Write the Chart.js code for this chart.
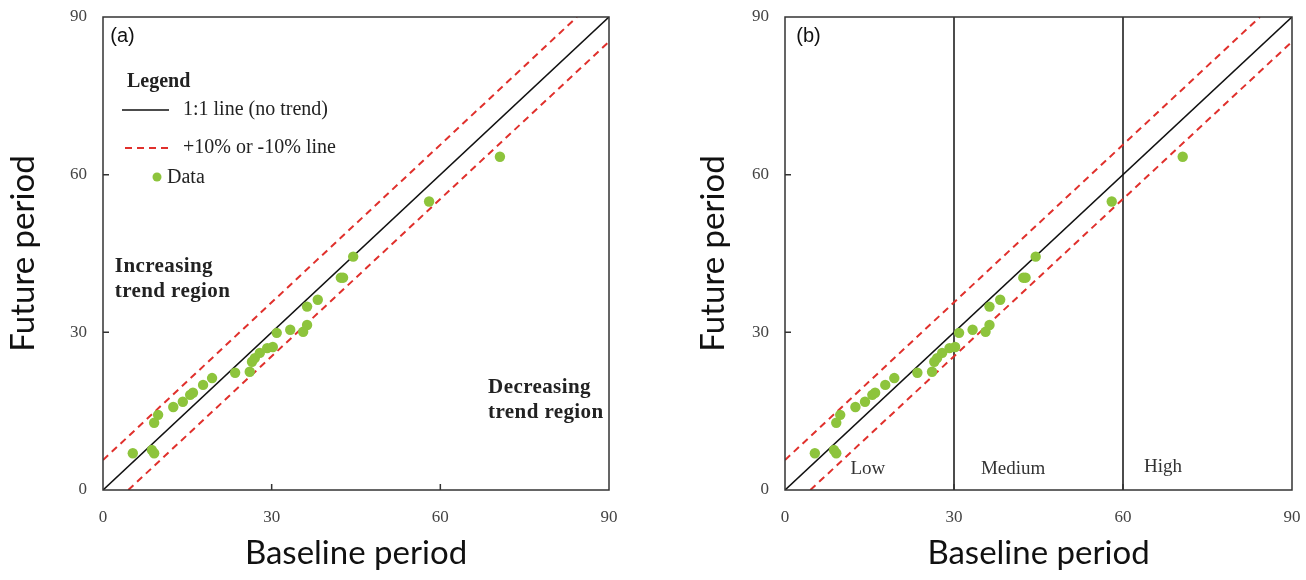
<!DOCTYPE html>
<html>
<head>
<meta charset="utf-8">
<script src="https://cdn.jsdelivr.net/npm/chart.js@4/dist/chart.umd.min.js"></script>
<style>
  html, body { margin: 0; padding: 0; background: #fff; }
  #wrap { position: relative; width: 1306px; height: 580px; }
  #boxA { position: absolute; left: 0; top: 0; width: 650px; height: 580px; }
  #boxB { position: absolute; left: 650px; top: 0; width: 656px; height: 580px; }
</style>
</head>
<body>
<div id="wrap">
  <div id="boxA"><canvas id="chartA"></canvas></div>
  <div id="boxB"><canvas id="chartB"></canvas></div>
</div>
<script>
// data
const baseline = [5.3, 8.7, 9.1, 9.1, 9.8, 12.5, 14.2, 15.5, 16.0, 17.8, 19.4, 23.5, 26.1, 26.5, 27.0,
  27.9, 29.2, 30.2, 30.9, 33.3, 35.6, 36.3, 36.3, 38.2, 42.3, 42.7, 44.5, 58.0, 70.6];
const future = [7.0, 7.6, 7.0, 12.8, 14.3, 15.8, 16.8, 18.1, 18.5, 20.0, 21.3, 22.3, 22.5, 24.4, 25.1,
  26.1, 27.0, 27.2, 29.9, 30.5, 30.1, 31.4, 34.9, 36.2, 40.4, 40.4, 44.4, 54.9, 63.4];
const tickValues = [0, 30, 60, 90];
const oneToOneX = [0, 90], oneToOneY = [0, 90];
const upperX = [0, 84.3], upperY = [5.7, 90];
const lowerX = [4.5, 90], lowerY = [0, 85.3];
const classBounds = [30, 60];
const classNames = ['Low', 'Medium', 'High'];

const SERIF = "'Liberation Serif', 'Times New Roman', serif";
const GREEN = '#8dc43c';
const RED = '#e0302c';

const pts = (xs, ys) => xs.map((v, i) => ({ x: v, y: ys[i] }));

function makeDatasets(withBounds) {
  const ds = [
    { label: 'Data', data: pts(baseline, future), showLine: false, pointRadius: 5.2,
      backgroundColor: GREEN, borderColor: GREEN, borderWidth: 0, order: 0, inLegend: 3 },
    { label: '1:1 line (no trend)', data: pts(oneToOneX, oneToOneY), showLine: true, pointRadius: 0,
      borderColor: '#111', borderWidth: 1.6, order: 1, inLegend: 1 },
    { label: '+10% or -10% line', data: pts(upperX, upperY), showLine: true, pointRadius: 0,
      borderColor: RED, borderWidth: 2, borderDash: [7, 5], order: 1, inLegend: 2 },
    { label: '-10% line', data: pts(lowerX, lowerY), showLine: true, pointRadius: 0,
      borderColor: RED, borderWidth: 2, borderDash: [7, 5], order: 1 }
  ];
  if (withBounds) {
    classBounds.forEach(b => ds.push({ label: 'bound ' + b, data: pts([b, b], [0, 90]), showLine: true,
      pointRadius: 0, borderColor: '#111', borderWidth: 1.5, order: 2 }));
  }
  return ds;
}

function makeScales(yWidth) {
  const tickFont = { family: SERIF, size: 17 };
  const titleFont = { family: "Lato, 'Open Sans', sans-serif", size: 33 };
  return {
    x: {
      type: 'linear', min: 0, max: 90,
      afterBuildTicks: s => { s.ticks = tickValues.map(v => ({ value: v })); },
      grid: { display: false, drawTicks: false }, border: { display: false },
      ticks: { font: tickFont, color: '#444', padding: 17, maxRotation: 0 },
      title: { display: true, text: 'Baseline period', font: titleFont, color: '#111', padding: { top: 2, bottom: 7 } },
      afterFit: s => { s.height = 90; s.paddingLeft = 0; s.paddingRight = 0; }
    },
    y: {
      type: 'linear', min: 0, max: 90,
      afterBuildTicks: s => { s.ticks = tickValues.map(v => ({ value: v })); },
      grid: { display: false, drawTicks: false }, border: { display: false },
      ticks: { font: tickFont, color: '#444', padding: 16 },
      title: { display: true, text: 'Future period', font: titleFont, color: '#111', padding: { top: 4, bottom: 0 } },
      afterFit: s => { s.width = yWidth; s.paddingTop = 0; s.paddingBottom = 0; }
    }
  };
}

// frame box + small inward tick marks
const frameTicks = {
  id: 'frameTicks',
  afterDraw(chart) {
    const { ctx, chartArea: a, scales: { x, y } } = chart;
    ctx.save();
    ctx.strokeStyle = '#333';
    ctx.lineWidth = 1.5;
    ctx.strokeRect(a.left, a.top, a.right - a.left, a.bottom - a.top);
    ctx.beginPath();
    tickValues.slice(1, -1).forEach(v => {
      const px = x.getPixelForValue(v), py = y.getPixelForValue(v);
      ctx.moveTo(px, a.bottom); ctx.lineTo(px, a.bottom - 6);
      ctx.moveTo(a.left, py); ctx.lineTo(a.left + 6, py);
    });
    ctx.stroke();
    ctx.restore();
  }
};

// text notes placed in data units
const notes = {
  id: 'notes',
  afterDraw(chart, args, opts) {
    const { ctx, scales: { x, y } } = chart;
    ctx.save();
    ctx.textBaseline = 'middle';
    (opts.items || []).forEach(n => {
      ctx.font = n.font;
      ctx.fillStyle = n.color || '#222';
      ctx.textAlign = n.align || 'left';
      ctx.letterSpacing = n.spacing || '0px';
      ctx.fillText(n.text, x.getPixelForValue(n.x), y.getPixelForValue(n.y));
    });
    ctx.restore();
  }
};

// legend drawn like the original (no frame)
const boxLegend = {
  id: 'boxLegend',
  afterDraw(chart, args, opts) {
    if (!opts.show) return;
    const { ctx, chartArea: a } = chart;
    const x0 = a.left + 19, y0 = a.top;
    ctx.save();
    ctx.textBaseline = 'middle';
    ctx.fillStyle = '#222';
    ctx.font = 'bold 20px ' + SERIF;
    ctx.fillText('Legend', x0 + 5, y0 + 65);
    const items = chart.data.datasets.filter(d => d.inLegend).sort((p, q) => p.inLegend - q.inLegend);
    items.forEach((d, i) => {
      const yy = y0 + opts.rows[i];
      ctx.font = '20px ' + SERIF;
      ctx.fillStyle = '#222';
      if (d.showLine) {
        ctx.strokeStyle = d.borderColor;
        ctx.lineWidth = d.borderWidth;
        ctx.setLineDash(d.borderDash || []);
        ctx.beginPath();
        ctx.moveTo(x0 + (d.borderDash ? 3 : 0), yy);
        ctx.lineTo(x0 + 47, yy);
        ctx.stroke();
        ctx.setLineDash([]);
        ctx.fillText(d.label, x0 + 61, yy);
      } else {
        ctx.fillStyle = d.backgroundColor;
        ctx.beginPath();
        ctx.arc(x0 + 35, yy, 4.5, 0, Math.PI * 2);
        ctx.fill();
        ctx.fillStyle = '#222';
        ctx.fillText(d.label, x0 + 45, yy + 1);
      }
    });
    ctx.restore();
  }
};

function makeChart(id, opt) {
  return new Chart(document.getElementById(id), {
    type: 'scatter',
    data: { datasets: makeDatasets(opt.bounds) },
    options: {
      responsive: true,
      maintainAspectRatio: false,
      animation: false,
      layout: { padding: opt.padding, autoPadding: false },
      scales: makeScales(opt.yWidth),
      plugins: {
        legend: { display: false },
        tooltip: { enabled: false },
        notes: { items: opt.notes },
        boxLegend: { show: opt.legend, rows: [93, 131, 160] }
      }
    },
    plugins: [frameTicks, notes, boxLegend]
  });
}

const boldNote = 'bold 21px ' + SERIF;
const plainNote = '19px ' + SERIF;

makeChart('chartA', {
  bounds: false, legend: true, yWidth: 103,
  padding: { left: 0, right: 41, top: 17, bottom: 0 },
  notes: [
    { text: '(a)', x: 1.3, y: 86.2, font: "20px 'Liberation Sans', Arial, sans-serif", color: '#111' },
    { text: 'Increasing', x: 2.1, y: 42.5, font: boldNote, spacing: '0.4px' },
    { text: 'trend region', x: 2.1, y: 37.7, font: boldNote, spacing: '0.4px' },
    { text: 'Decreasing', x: 68.5, y: 19.4, font: boldNote, spacing: '0.4px' },
    { text: 'trend region', x: 68.5, y: 14.7, font: boldNote, spacing: '0.4px' }
  ]
});

makeChart('chartB', {
  bounds: true, legend: false, yWidth: 95,
  padding: { left: 40, right: 14, top: 17, bottom: 0 },
  notes: [
    { text: '(b)', x: 2.0, y: 86.2, font: "20px 'Liberation Sans', Arial, sans-serif", color: '#111' },
    { text: classNames[0], x: 14.7, y: 4, font: plainNote, align: 'center', color: '#333' },
    { text: classNames[1], x: 40.5, y: 4, font: plainNote, align: 'center', color: '#333' },
    { text: classNames[2], x: 67.1, y: 4.3, font: plainNote, align: 'center', color: '#333' }
  ]
});
</script>
</body>
</html>
